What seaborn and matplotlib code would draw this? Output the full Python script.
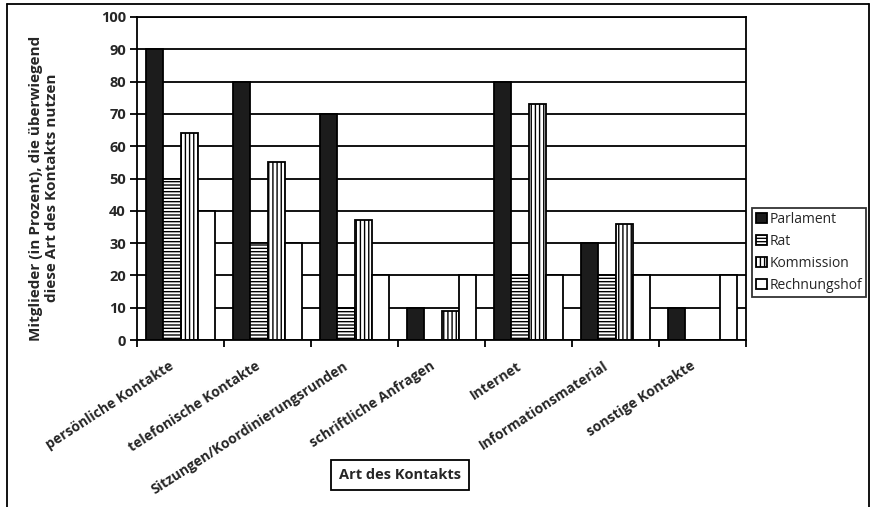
import matplotlib
matplotlib.use("Agg")
import matplotlib.pyplot as plt
import matplotlib.transforms as mtransforms
import seaborn as sns
import pandas as pd
from matplotlib.lines import Line2D
from matplotlib.ticker import FixedLocator

categories = ["persönliche Kontakte", "telefonische Kontakte", "Sitzungen/Koordinierungsrunden",
              "schriftliche Anfragen", "Internet", "Informationsmaterial", "sonstige Kontakte"]
series = ["Parlament", "Rat", "Kommission", "Rechnungshof"]
parlament = [90, 80, 70, 10, 80, 30, 10]
rat = [50, 30, 10, 0, 20, 20, 0]
kommission = [64, 55, 37, 9, 73, 36, 0]
rechnungshof = [40, 30, 20, 20, 20, 20, 20]
yticks = list(range(0, 101, 10))

rows = []
for name, vals in zip(series, [parlament, rat, kommission, rechnungshof]):
    for c, v in zip(categories, vals):
        rows.append({"Art": c, "Gremium": name, "Wert": v})
df = pd.DataFrame(rows)

sns.set_style("white")
plt.rcParams["font.family"] = ["Open Sans", "DejaVu Sans"]
plt.rcParams["hatch.linewidth"] = 1.0
plt.rcParams["hatch.color"] = "black"

fig = plt.figure(figsize=(8.75, 5.07), dpi=100)
ax = fig.add_axes([137/875, 1-340/507, (746-137)/875, (340-17)/507])

sns.barplot(data=df, x="Art", y="Wert", hue="Gremium", order=categories, hue_order=series,
            palette=["#1c1c1c", "white", "white", "white"], edgecolor="black", linewidth=1.3,
            width=0.8, gap=0, saturation=1, legend=False, ax=ax)

hatches = [None, "-----", "||||", None]
for cont, h in zip(ax.containers, hatches):
    for p in cont.patches:
        if h:
            p.set_hatch(h)
        p.set_edgecolor("black")

ax.set_ylim(0, 100)
ax.set_xlim(-0.5, len(categories) - 0.5)
ax.set_yticks(yticks)
ax.set_yticklabels([str(t) for t in yticks], fontsize=10.5, fontweight="bold")
ax.yaxis.grid(True, color="black", linewidth=1.3)
ax.set_axisbelow(True)
for s in ax.spines.values():
    s.set_color("black")
    s.set_linewidth(1.3)

ax.set_xticks(range(len(categories)))
ax.xaxis.set_minor_locator(FixedLocator([i - 0.5 for i in range(len(categories) + 1)]))
ax.tick_params(axis="x", which="major", length=0, pad=13.5)
ax.tick_params(axis="x", which="minor", length=5, width=1.3, color="black", bottom=True)
ax.tick_params(axis="y", length=5, width=1.3, color="black", left=True, pad=3)
ax.set_xticklabels(categories, rotation=33, ha="right", rotation_mode="anchor",
                   fontsize=10, fontweight="bold")
shift = mtransforms.ScaledTranslation(-12/100, 0, fig.dpi_scale_trans)
for lbl in ax.get_xticklabels():
    lbl.set_transform(lbl.get_transform() + shift)
ax.set_xlabel("")
ax.set_ylabel("Mitglieder (in Prozent), die überwiegend\ndiese Art des Kontakts nutzen",
              fontsize=11, fontweight="bold", linespacing=1.15)
ax.yaxis.set_label_coords(-0.128, 0.47)

handles = [cont.patches[0] for cont in ax.containers]
leg = ax.legend(handles=handles, labels=series, loc="upper left",
                bbox_to_anchor=(752/875, 1-208/507), bbox_transform=fig.transFigure,
                fontsize=10, frameon=True, fancybox=False, handlelength=0.75, handleheight=0.75,
                handletextpad=0.2, labelspacing=0.5, borderpad=0.3, borderaxespad=0)
leg.get_frame().set_edgecolor("black")
leg.get_frame().set_linewidth(1.3)

fig.text(400/875, 1-475/507, "Art des Kontakts", ha="center", va="center", fontsize=10.5,
         fontweight="bold",
         bbox=dict(boxstyle="square,pad=0.55", facecolor="white", edgecolor="black", linewidth=1.3))

# outer frame
fig.add_artist(Line2D([7/875, 7/875], [0, 1-4/507], transform=fig.transFigure, color="black", lw=1.3))
fig.add_artist(Line2D([7/875, 869/875], [1-4/507, 1-4/507], transform=fig.transFigure, color="black", lw=1.3))
fig.add_artist(Line2D([869/875, 869/875], [0, 1-4/507], transform=fig.transFigure, color="black", lw=1.3))

fig.savefig("out.png", dpi=100)
